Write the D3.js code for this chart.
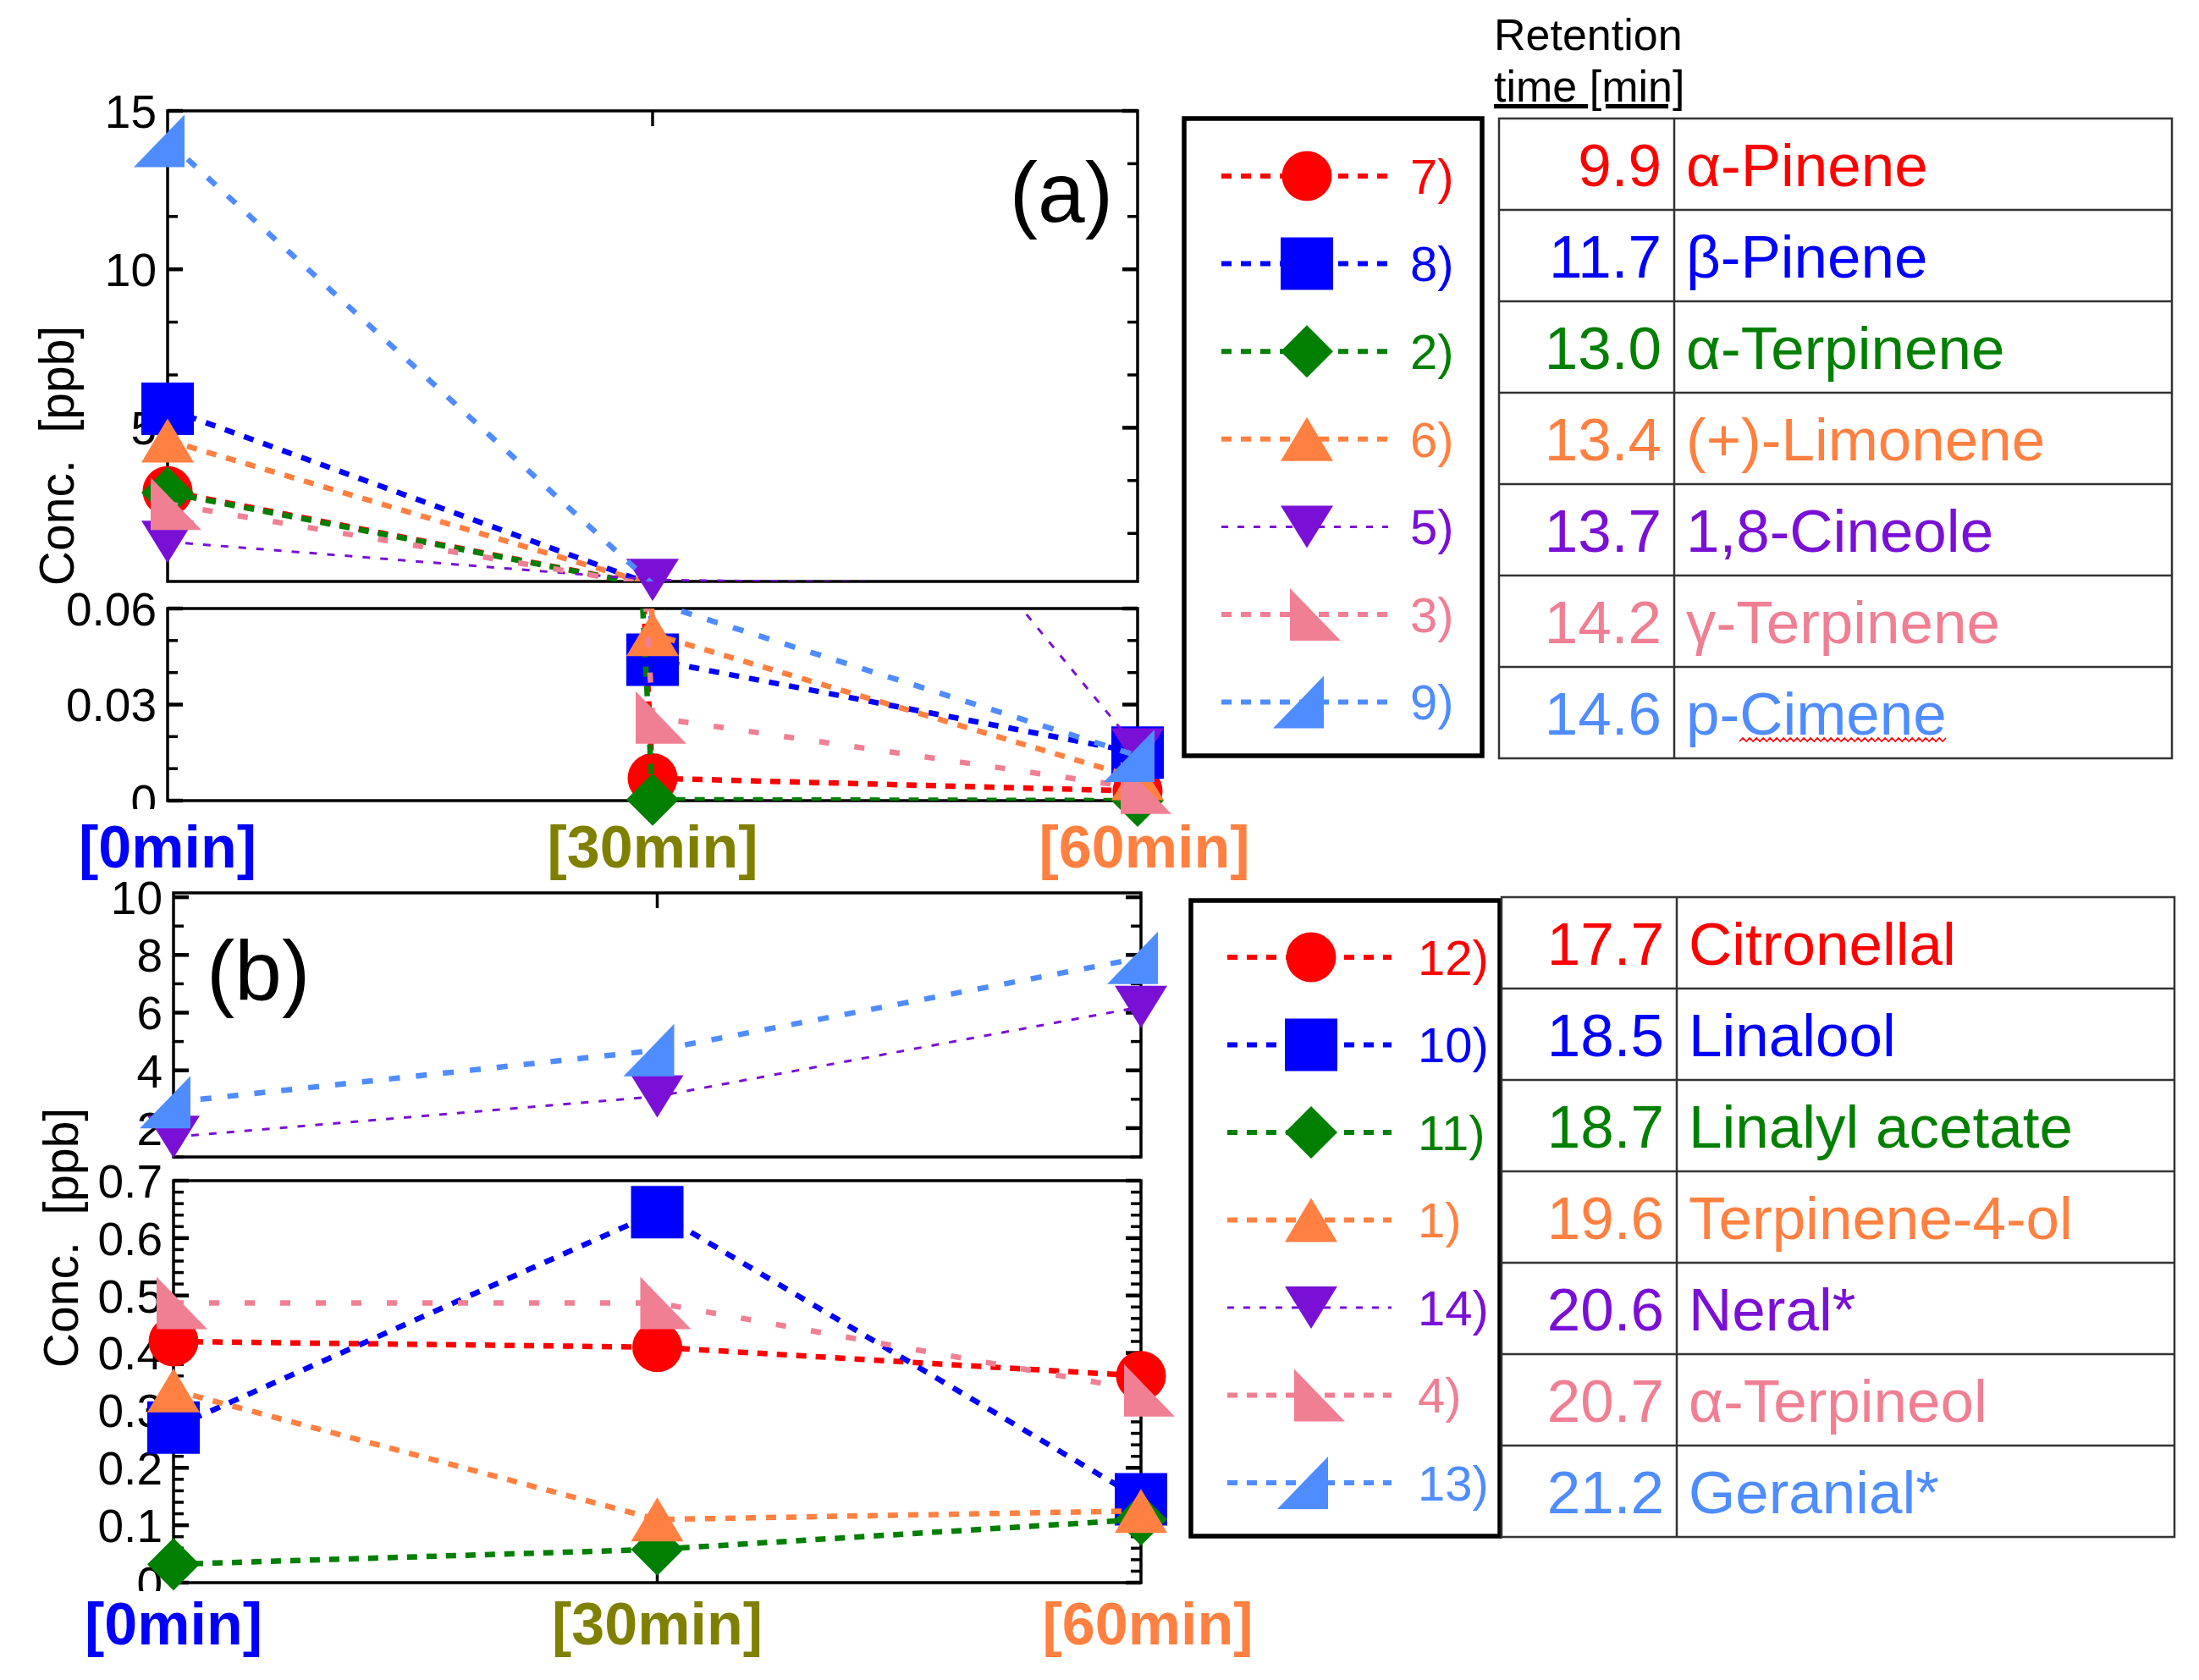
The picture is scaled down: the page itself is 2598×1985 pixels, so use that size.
<!DOCTYPE html>
<html>
<head>
<meta charset="utf-8">
<script src="https://cdn.jsdelivr.net/npm/d3@7"></script>
<style>
  html, body { margin: 0; padding: 0; background: #fff; }
  svg { display: block; }
  text { font-family: "Liberation Sans", Arial, Helvetica, sans-serif; }
</style>
</head>
<body>
<svg id="chart" width="2598" height="1985"></svg>
<script>
// ---- data ----
var times = [0, 30, 60];
var timeLabels = ["[0min]", "[30min]", "[60min]"];
var timeColors = ["#0000ff", "#808000", "#ff8040"];

// panel (a): monoterpenes
var idsA = ["7)", "8)", "2)", "6)", "5)", "3)", "9)"];
var namesA = ["α-Pinene", "β-Pinene", "α-Terpinene", "(+)-Limonene", "1,8-Cineole", "γ-Terpinene", "p-Cimene"];
var rtA = ["9.9", "11.7", "13.0", "13.4", "13.7", "14.2", "14.6"];
var alphaPinene = [3.0, 0.007, 0.003];
var betaPinene = [5.6, 0.044, 0.015];
var alphaTerpinene = [2.95, 0.0003, 0.0];
var limonene = [4.6, 0.052, 0.007];
var cineole = [1.4, 0.2, 0.016];
var gammaTerpinene = [2.6, 0.026, 0.004];
var pCimene = [14.05, 0.062, 0.014];
var valuesA = [alphaPinene, betaPinene, alphaTerpinene, limonene, cineole, gammaTerpinene, pCimene];

// panel (b): oxygenated compounds
var idsB = ["12)", "10)", "11)", "1)", "14)", "4)", "13)"];
var namesB = ["Citronellal", "Linalool", "Linalyl acetate", "Terpinene-4-ol", "Neral*", "α-Terpineol", "Geranial*"];
var rtB = ["17.7", "18.5", "18.7", "19.6", "20.6", "20.7", "21.2"];
var citronellal = [0.42, 0.41, 0.36];
var linalool = [0.27, 0.645, 0.145];
var linalylAcetate = [0.032, 0.058, 0.11];
var terpinen4ol = [0.335, 0.11, 0.125];
var neral = [1.7, 3.1, 6.2];
var alphaTerpineol = [0.487, 0.487, 0.335];
var geranial = [2.9, 4.7, 7.9];
var valuesB = [citronellal, linalool, linalylAcetate, terpinen4ol, neral, alphaTerpineol, geranial];

// tick labels
var upperTicksA = [5, 10, 15];
var lowerTicksA = [0, 0.03, 0.06];
var upperTicksB = [2, 4, 6, 8, 10];
var lowerTicksB = [0, 0.1, 0.2, 0.3, 0.4, 0.5, 0.6, 0.7];

// ---- styles (shared by both panels, in legend order) ----
var colors = ["#ff0000", "#0000ff", "#007f00", "#ff8040", "#7a10d6", "#f07f94", "#4f8cff"];
var symbols = ["circle", "square", "diamond", "triUp", "triDown", "triLeftEdge", "triRightEdge"];
var widths = [6.5, 6.5, 6.5, 6.5, 3, 6.5, 6.5];
var dashes = ["12,11", "12,12", "12,11", "12,12", "9,12", "12,30", "13,19"];

var svg = d3.select("#chart");
var defs = svg.append("defs");
var clipCount = 0;

function symbolPath(type) {
  switch (type) {
    case "square": return "M-31,-31h62v62h-62Z";
    case "diamond": return "M0,-31L31,0L0,31L-31,0Z";
    case "triUp": return "M0,-26L31,26L-31,26Z";
    case "triDown": return "M-31,-25L31,-25L0,25Z";
    case "triLeftEdge": return "M-20,-31L-20,31L40,31Z";
    case "triRightEdge": return "M20,-31L20,31L-40,31Z";
  }
  return null;
}

function drawMarker(g, type, cx, cy, color) {
  if (type === "circle") {
    g.append("circle").attr("cx", cx).attr("cy", cy).attr("r", 29.5).attr("fill", color);
  } else {
    g.append("path").attr("d", symbolPath(type))
      .attr("transform", "translate(" + cx + "," + cy + ")")
      .attr("fill", color);
  }
}

function makeClip(x, y, w, h) {
  var id = "clip" + (clipCount++);
  defs.append("clipPath").attr("id", id)
    .append("rect").attr("x", x).attr("y", y).attr("width", w).attr("height", h);
  return "url(#" + id + ")";
}

// one frame of a broken axis
function drawFrame(g, x, y, minorStep, majorTicks, isLower) {
  var x0 = x.range()[0], x1 = x.range()[1];
  var y0 = y.range()[1], y1 = y.range()[0];
  var d = y.domain();
  var ticksG = g.append("g").attr("stroke", "#000");

  var i0 = Math.ceil(d[0] / minorStep - 1e-6);
  for (var i = i0; i * minorStep <= d[1] + 1e-9; i++) {
    var v = i * minorStep;
    var major = majorTicks.some(function (m) { return Math.abs(m - v) < 1e-6; });
    var len = major ? 18 : 12;
    var yy = y(v);
    ticksG.append("line").attr("x1", x0).attr("x2", x0 + len).attr("y1", yy).attr("y2", yy)
      .attr("stroke-width", major ? 4.5 : 3.5);
    ticksG.append("line").attr("x1", x1).attr("x2", x1 - len).attr("y1", yy).attr("y2", yy)
      .attr("stroke-width", major ? 4.5 : 3.5);
  }
  // tick at 30 min on the outer edge
  ticksG.append("line").attr("x1", x(30)).attr("x2", x(30)).attr("stroke-width", 3.5)
    .attr("y1", isLower ? y1 : y0).attr("y2", isLower ? y1 - 18 : y0 + 18);

  var labels = g.append("g");
  if (isLower) {
    labels.attr("clip-path", makeClip(0, y0 - 40, x0, y1 - y0 + 40 + 10));
  }
  majorTicks.forEach(function (m) {
    labels.append("text")
      .attr("x", x0 - 13).attr("y", y(m)).attr("dy", "0.36em")
      .attr("text-anchor", "end").attr("font-size", 55)
      .text(String(m));
  });

  g.append("rect").attr("x", x0).attr("y", y0)
    .attr("width", x1 - x0).attr("height", y1 - y0)
    .attr("fill", "none").attr("stroke", "#000").attr("stroke-width", 3.5);
}

function drawPanel(opt) {
  var g = svg.append("g");
  var x = d3.scaleLinear().domain([0, 60]).range([opt.left, opt.right]);
  var yU = d3.scaleLinear().domain(opt.upperDomain).range(opt.upperRange);
  var yL = d3.scaleLinear().domain(opt.lowerDomain).range(opt.lowerRange);

  drawFrame(g, x, yU, opt.upperMinor, opt.upperTicks, false);
  drawFrame(g, x, yL, opt.lowerMinor, opt.lowerTicks, true);

  // y title
  var yc = (opt.upperRange[1] + opt.lowerRange[0]) / 2;
  g.append("text")
    .attr("transform", "translate(" + (opt.titleX) + "," + yc + ") rotate(-90)")
    .attr("text-anchor", "middle").attr("font-size", 57)
    .style("white-space", "pre")
    .text("Conc.  [ppb]");

  // x category labels
  times.forEach(function (t, i) {
    g.append("text")
      .attr("x", x(t) + (i === 2 ? 8 : 0)).attr("y", opt.xLabelY)
      .attr("text-anchor", "middle").attr("font-size", 70).attr("font-weight", "bold")
      .attr("fill", timeColors[i])
      .text(timeLabels[i]);
  });

  // panel letter
  g.append("text").attr("x", opt.letterX).attr("y", opt.letterY)
    .attr("text-anchor", opt.letterAnchor).attr("font-size", 100)
    .text(opt.letter);

  var clipU = makeClip(opt.left, opt.upperRange[1], opt.right - opt.left, opt.upperRange[0] - opt.upperRange[1]);
  var clipL = makeClip(opt.left, opt.lowerRange[1], opt.right - opt.left, opt.lowerRange[0] - opt.lowerRange[1]);

  opt.values.forEach(function (vals, s) {
    var sg = g.append("g");
    [[yU, clipU], [yL, clipL]].forEach(function (p) {
      var y = p[0];
      var ln = d3.line().x(function (d, i) { return x(times[i]); }).y(function (d) { return y(d); });
      sg.append("path").attr("d", ln(vals))
        .attr("clip-path", p[1])
        .attr("fill", "none").attr("stroke", colors[s])
        .attr("stroke-width", widths[s])
        .attr("stroke-dasharray", dashes[s]);
    });
    vals.forEach(function (v, i) {
      [yU, yL].forEach(function (y) {
        var dm = y.domain();
        if (v >= dm[0] - 1e-9 && v <= dm[1] + 1e-9) {
          drawMarker(sg, symbols[s], x(times[i]), y(v), colors[s]);
        }
      });
    });
  });
}

function drawLegend(opt) {
  var g = svg.append("g");
  g.append("rect").attr("x", opt.x).attr("y", opt.y).attr("width", opt.w).attr("height", opt.h)
    .attr("fill", "none").attr("stroke", "#000").attr("stroke-width", 5.5);
  opt.ids.forEach(function (id, i) {
    var cy = opt.row0 + i * opt.rowStep;
    g.append("line").attr("x1", opt.lineX0).attr("x2", opt.lineX1)
      .attr("y1", cy).attr("y2", cy)
      .attr("stroke", colors[i]).attr("stroke-width", i === 4 ? 3 : 6)
      .attr("stroke-dasharray", i === 4 ? "8,11" : "12,11");
    drawMarker(g, symbols[i], opt.markerX, cy, colors[i]);
    g.append("text").attr("x", opt.labelX).attr("y", cy).attr("dy", "0.36em")
      .attr("font-size", 58).attr("fill", colors[i]).text(id);
  });
}

function drawTable(opt) {
  var g = svg.append("g");
  var rows = opt.rt.length;
  var h = rows * opt.rowH;
  var lines = g.append("g").attr("stroke", "#333").attr("stroke-width", 2.5);
  lines.append("rect").attr("x", opt.x).attr("y", opt.y).attr("width", opt.right - opt.x).attr("height", h)
    .attr("fill", "none");
  for (var r = 1; r < rows; r++) {
    lines.append("line").attr("x1", opt.x).attr("x2", opt.right)
      .attr("y1", opt.y + r * opt.rowH).attr("y2", opt.y + r * opt.rowH);
  }
  lines.append("line").attr("x1", opt.div).attr("x2", opt.div).attr("y1", opt.y).attr("y2", opt.y + h);

  var names = [];
  opt.rt.forEach(function (rt, i) {
    var cy = opt.y + (i + 0.5) * opt.rowH;
    g.append("text").attr("x", opt.div - 15).attr("y", cy).attr("dy", "0.36em")
      .attr("text-anchor", "end").attr("font-size", 71).attr("fill", colors[i]).text(rt);
    names.push(g.append("text").attr("x", opt.div + 14).attr("y", cy).attr("dy", "0.36em")
      .attr("font-size", 71).attr("fill", colors[i]).text(opt.names[i]));
  });
  return names;
}

// ---- panel (a) ----
drawPanel({
  values: valuesA,
  left: 198, right: 1344,
  upperDomain: [0.15, 15], upperRange: [687, 131], upperMinor: 5 / 3, upperTicks: upperTicksA,
  lowerDomain: [0, 0.06], lowerRange: [946, 719], lowerMinor: 0.01, lowerTicks: lowerTicksA,
  titleX: 87, xLabelY: 1025,
  letter: "(a)", letterX: 1315, letterY: 262, letterAnchor: "end"
});

// ---- panel (b) ----
drawPanel({
  values: valuesB,
  left: 205, right: 1348,
  upperDomain: [1, 10.15], upperRange: [1367, 1055], upperMinor: 1, upperTicks: upperTicksB,
  lowerDomain: [0, 0.7], lowerRange: [1870, 1395], lowerMinor: 0.02, lowerTicks: lowerTicksB,
  titleX: 92, xLabelY: 1943,
  letter: "(b)", letterX: 244, letterY: 1182, letterAnchor: "start"
});

// ---- legends and tables ----
drawLegend({ ids: idsA, x: 1399, y: 140, w: 352, h: 753, row0: 208, rowStep: 103.6,
  lineX0: 1443, lineX1: 1640, markerX: 1544, labelX: 1666 });
drawLegend({ ids: idsB, x: 1407, y: 1064, w: 365, h: 751, row0: 1131, rowStep: 103.5,
  lineX0: 1450, lineX1: 1644, markerX: 1549, labelX: 1675 });

svg.append("text").attr("x", 1765).attr("y", 59).attr("font-size", 52).text("Retention");
svg.append("text").attr("x", 1765).attr("y", 120).attr("font-size", 52)
  .attr("text-decoration", "underline").text("time [min]");

var namesTableA = drawTable({ rt: rtA, names: namesA, x: 1771, div: 1978, right: 2566, y: 140, rowH: 108 });
drawTable({ rt: rtB, names: namesB, x: 1774, div: 1981, right: 2569, y: 1060, rowH: 108 });

// spell-check squiggle under "Cimene"
(function () {
  var t = namesTableA[6].node();
  var start = t.getSubStringLength(0, 2);
  var len = t.getSubStringLength(2, 6);
  var x0 = +t.getAttribute("x") + start;
  var yb = 140 + 6.5 * 108 + 32;
  var pts = [];
  for (var i = 0; i * 4 <= len; i++) {
    pts.push([x0 + i * 4, yb + (i % 2 ? -2 : 2)]);
  }
  svg.append("path").attr("d", d3.line()(pts))
    .attr("fill", "none").attr("stroke", "#ff0000").attr("stroke-width", 1.6);
})();
</script>
</body>
</html>
